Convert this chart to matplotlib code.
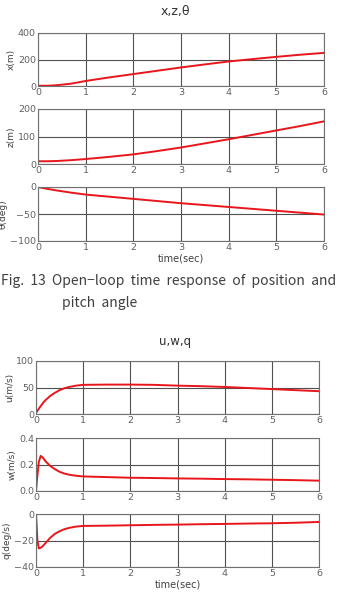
import matplotlib
matplotlib.use("Agg")
import matplotlib.pyplot as plt
import numpy as np

plt.rcParams['font.family'] = ['DejaVu Sans']

t_pos = [0, 0.2, 0.4, 0.7, 1, 1.5, 2, 2.5, 3, 3.5, 4, 4.5, 5, 5.5, 6]
x_m = [2, 2, 6, 18, 38, 65, 90, 115, 140, 163, 185, 203, 220, 236, 250]
z_m = [10, 10, 11, 14, 18, 26, 35, 47, 60, 75, 90, 106, 122, 138, 155]
theta_deg = [0, -3.5, -6.5, -10.5, -14, -18, -22, -26, -30, -33.5, -37, -40.5, -44, -47.5, -51]

t_vel = [0, 0.03, 0.06, 0.1, 0.15, 0.2, 0.3, 0.4, 0.5, 0.6, 0.7, 0.85, 1, 1.5, 2, 2.5, 3, 3.5, 4, 4.5, 5, 5.5, 6]
u_ms = [2, 6, 10, 15, 21, 26, 34, 40, 45, 48.5, 51, 53.5, 55, 55.5, 55.5, 55, 53.5, 52.5, 51, 49, 47, 45, 43]
w_ms = [0, 0.12, 0.22, 0.265, 0.25, 0.225, 0.19, 0.165, 0.145, 0.132, 0.123, 0.115, 0.11, 0.105, 0.1, 0.098, 0.095, 0.093, 0.09, 0.088, 0.085, 0.082, 0.078]
q_degs = [0, -20, -26, -25.5, -24, -22, -18, -15, -13, -11.5, -10.5, -9.5, -9, -8.8, -8.5, -8.2, -8, -7.7, -7.5, -7.2, -7, -6.6, -6]

W, H = 341, 605
fig = plt.figure(figsize=(W/100, H/100), dpi=100)

def add_ax(l, t, r, b):
    return fig.add_axes([l/W, 1 - b/H, (r - l)/W, (b - t)/H])

grid_c = '#505050'
tick_c = '#606060'

def style(ax, ylim, yticks, ylabel):
    ax.set_xlim(0, 6)
    ax.set_ylim(*ylim)
    ax.set_xticks(range(7))
    ax.set_yticks(yticks)
    ax.grid(True, color=grid_c, linewidth=0.8)
    ax.tick_params(length=0, labelsize=6.8, colors=tick_c, pad=1.5)
    for s in ax.spines.values():
        s.set_color('#707070')
        s.set_linewidth(0.8)
    ax.set_ylabel(ylabel, fontsize=6.5, color='#404040', labelpad=1.5)

red = '#e8161b'

fig.text(175/W, 1 - 11/H, 'x,z,θ', ha='center', va='center', fontsize=9, color='#303030')
a1 = add_ax(38, 33, 324, 86)
a1.plot(t_pos, x_m, color=red, lw=1.4)
style(a1, (0, 400), [0, 200, 400], 'x(m)')
a2 = add_ax(38, 109, 324, 164)
a2.plot(t_pos, z_m, color=red, lw=1.4)
style(a2, (0, 200), [0, 100, 200], 'z(m)')
a3 = add_ax(38, 187, 324, 241)
a3.plot(t_pos, theta_deg, color=red, lw=1.4)
style(a3, (-100, 0), [-100, -50, 0], 'θ(deg)')
a3.set_xlabel('time(sec)', fontsize=7, color='#404040', labelpad=1)

cap_kw = dict(fontsize=10, color='#404040', family=['Noto Sans CJK KR', 'DejaVu Sans'], va='center')
fig.text(1/W, 1 - 281/H, 'Fig.  13  Open−loop  time  response  of  position  and', **cap_kw)
fig.text(62/W, 1 - 303/H, 'pitch  angle', **cap_kw)

fig.text(175/W, 1 - 342/H, 'u,w,q', ha='center', va='center', fontsize=8.5, color='#303030')
a4 = add_ax(36, 361, 319, 414)
a4.plot(t_vel, u_ms, color=red, lw=1.4)
style(a4, (0, 100), [0, 50, 100], 'u(m/s)')
a5 = add_ax(36, 438, 319, 491)
a5.plot(t_vel, w_ms, color=red, lw=1.4)
style(a5, (0, 0.4), [0, 0.2, 0.4], 'w(m/s)')
a6 = add_ax(36, 514, 319, 567)
a6.plot(t_vel, q_degs, color=red, lw=1.4)
style(a6, (-40, 0), [-40, -20, 0], 'q(deg/s)')
a6.set_xlabel('time(sec)', fontsize=7, color='#404040', labelpad=1)

fig.savefig('out.png', dpi=100)
